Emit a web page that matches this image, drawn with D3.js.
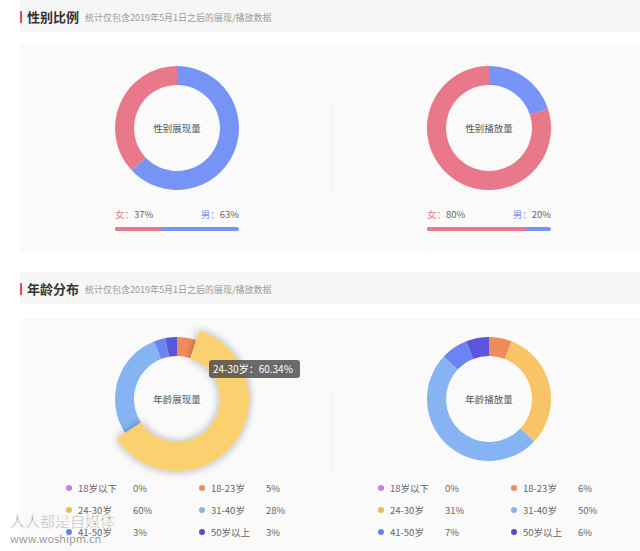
<!DOCTYPE html>
<html><head><meta charset="utf-8">
<script src="https://cdn.jsdelivr.net/npm/d3@7"></script>
<style>
html,body{margin:0;padding:0;background:#fff;}
svg{display:block;font-family:"Noto Sans CJK SC","Noto Sans",sans-serif;}
</style></head>
<body><svg id="c" width="640" height="551"></svg>
<script>
const sectionTitles = ["性别比例", "年龄分布"];
const subtitle = "统计仅包含2019年5月1日之后的展现/播放数据";

const genderCats = ["男", "女"];
const genderColors = ["#7694f6", "#e9798a"];
const genderExposure = [63, 37];
const genderPlay = [20, 80];
const genderTitles = ["性别展现量", "性别播放量"];

const ageCats = ["18岁以下", "18-23岁", "24-30岁", "31-40岁", "41-50岁", "50岁以上"];
const ageSliceColors = ["#c680e2", "#f08c5c", "#f8c466", "#86b4f3", "#6a84f3", "#5a56dc"];
const ageDotColors = ["#c47fe0", "#e98d5e", "#eeb95e", "#8cb3e8", "#6883e2", "#5a4fc8"];
const ageExposure = [0, 5, 60.34, 28, 3, 3];
const agePlay = [0, 6, 31, 50, 7, 6];
const ageTitles = ["年龄展现量", "年龄播放量"];

const svg = d3.select("#c");
const defs = svg.append("defs");
const f = defs.append("filter").attr("id","sh").attr("x","-30%").attr("y","-30%").attr("width","160%").attr("height","160%");
f.append("feDropShadow").attr("dx",0).attr("dy",0).attr("stdDeviation",4.5).attr("flood-color","#000").attr("flood-opacity",0.35);

function header(y, title){
  svg.append("rect").attr("x",20).attr("y",y).attr("width",620).attr("height",32).attr("fill","#f6f6f6");
  svg.append("rect").attr("x",20).attr("y",y+11).attr("width",2).attr("height",12).attr("fill","#e8474f");
  svg.append("text").attr("x",27).attr("y",y+21.5).attr("font-size",13).attr("font-weight",600).attr("fill","#333").text(title);
  svg.append("text").attr("x",85).attr("y",y+20.5).attr("font-size",9).attr("fill","#9a9a9a").text(subtitle);
}
header(0, sectionTitles[0]);
svg.append("rect").attr("x",20).attr("y",44).attr("width",620).attr("height",208).attr("fill","#fafafa");
header(272, sectionTitles[1]);
svg.append("rect").attr("x",20).attr("y",318).attr("width",620).attr("height",233).attr("fill","#fafafa");

svg.append("rect").attr("x",331.5).attr("y",105).attr("width",1).attr("height",86).attr("fill","#ececec");
svg.append("rect").attr("x",331.5).attr("y",392).attr("width",1).attr("height",80).attr("fill","#ececec");

const R = 62, r = 43;
const pie = d3.pie().sort(null).value(d=>d);
const arc = d3.arc().innerRadius(r).outerRadius(R);
const arcHi = d3.arc().innerRadius(r).outerRadius(R+10);

function donut(cx, cy, values, colors, label, hiIndex){
  const g = svg.append("g").attr("transform",`translate(${cx},${cy})`);
  const arcs = pie(values);
  g.selectAll("path.s").data(arcs).join("path").attr("class","s")
    .attr("d",(d,i)=> i===hiIndex ? null : (d.endAngle>d.startAngle? arc(d):null))
    .attr("fill",(d,i)=>colors[i]);
  if(hiIndex!=null){
    g.append("path").attr("d",arcHi(arcs[hiIndex])).attr("fill","#fbd06e").attr("filter","url(#sh)");
  }
  g.append("text").attr("text-anchor","middle").attr("y",3.5).attr("font-size",9.5).attr("fill","#555").text(label);
}

const gCenters = [177, 489];
[genderExposure, genderPlay].forEach((vals,k)=>{
  const cx = gCenters[k];
  donut(cx, 128, vals, genderColors, genderTitles[k], null);
  const x0 = cx-62, w = 124;
  const total = d3.sum(vals);
  const xs = d3.scaleLinear().domain([0,total]).range([x0, x0+w]);
  const fem = vals[1], male = vals[0];
  svg.append("rect").attr("x",x0).attr("y",227).attr("width",w).attr("height",4).attr("rx",2).attr("fill",genderColors[0]);
  svg.append("path").attr("d",`M${xs(0)+2},227 H${xs(fem)} V231 H${xs(0)+2} A2,2 0 0 1 ${xs(0)+2},227 Z`).attr("fill",genderColors[1]);
  const t1 = svg.append("text").attr("x",x0).attr("y",218).attr("font-size",9.5);
  t1.append("tspan").attr("fill",genderColors[1]).text(genderCats[1]+"：");
  t1.append("tspan").attr("fill","#666").text(fem+"%");
  const t2 = svg.append("text").attr("x",x0+w).attr("y",218).attr("font-size",9.5).attr("text-anchor","end");
  t2.append("tspan").attr("fill",genderColors[0]).text(genderCats[0]+"：");
  t2.append("tspan").attr("fill","#666").text(male+"%");
});

donut(177, 399, ageExposure, ageSliceColors, ageTitles[0], 2);
donut(489, 399, agePlay, ageSliceColors, ageTitles[1], null);

function legend(x0, values){
  ageCats.forEach((c,i)=>{
    const col = i%2, row = Math.floor(i/2);
    const x = x0 + col*133, y = 488 + row*22;
    svg.append("circle").attr("cx",x).attr("cy",y).attr("r",3).attr("fill",ageDotColors[i]);
    svg.append("text").attr("x",x+9).attr("y",y+3.5).attr("font-size",9.5).attr("fill","#666").text(c);
    svg.append("text").attr("x",x+64).attr("y",y+3.5).attr("font-size",9.5).attr("fill","#666")
      .text(Math.round(values[i])+"%");
  });
}
legend(69, ageExposure);
legend(381, agePlay);

const tip = svg.append("g").attr("transform","translate(209,360)");
tip.append("rect").attr("width",91).attr("height",18).attr("rx",3).attr("fill","rgba(80,80,80,0.85)");
tip.append("text").attr("x",4).attr("y",13).attr("font-size",10).attr("fill","#fff")
  .text(ageCats[2]+"：" + ageExposure[2].toFixed(2) + "%");

svg.append("text").attr("x",10).attr("y",527).attr("font-size",15).attr("fill","#777").attr("fill-opacity",0.75)
  .attr("stroke","#fff").attr("stroke-width",0.5).text("人人都是自媒体");
svg.append("text").attr("x",10).attr("y",543).attr("font-size",11).attr("fill","#777").attr("fill-opacity",0.75)
  .text("www.woshipm.cn");
</script></body></html>
